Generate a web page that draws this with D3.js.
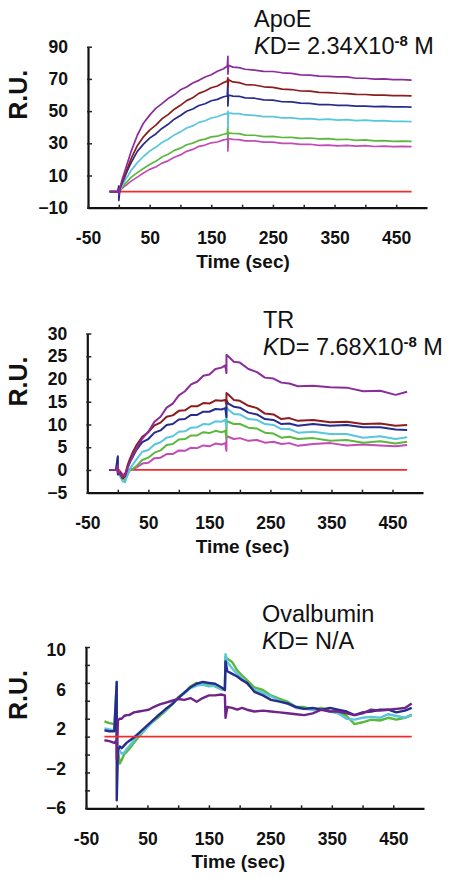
<!DOCTYPE html>
<html><head><meta charset="utf-8">
<script src="https://cdn.jsdelivr.net/npm/d3@7"></script>
<style>
html,body{margin:0;padding:0;background:#fff;}
svg{display:block;}
text{font-family:"Liberation Sans",Arial,Helvetica,sans-serif;}
</style></head>
<body>
<svg id="chart" width="455" height="882"></svg>
<script>
// ---------------- DATA ----------------
const X_LABEL_TICKS = [-50, 50, 150, 250, 350, 450];
const X_MINOR_TICKS = [-50, 0, 50, 100, 150, 200, 250, 300, 350, 400, 450];

// Panel 1: ApoE
const P1_TITLE = "ApoE";
const P1_KD = "2.34X10";
const P1_YTICKS = [-10, 10, 30, 50, 70, 90];
const T1 = [-15,-2,0,0,2, 5,10,15,20,30, 40,50,60,70,80, 90,100,110,120,130, 140,150,160,170,176,
            177,177,178,185,195, 205,220,235,250,265, 280,295,310,325,340, 355,370,385,400,415, 430,445,460,475];
const P1_PURPLE = [0,0,1.5,-2,2.5, 7,13,19,25,35, 42.5,47.5,51.7,54.6,57.8, 60.1,63.2,65,67.5,69.1, 71.2,72.6,74.7,76.3,78,
            84,73,78.5,77.3,77, 76,75.5,74.7,74.6,73.8, 73.4,72.5,72.3,71.7,71.6, 71.3,71.3,70.4,70.4,69.9, 70,69.5,69.5,69.2];
const P1_DARKRED = [0,0,0,0,2.2, 5.5,10.5,15.5,20.5,28.5, 34,38.2,41.3,45.2,47.8, 51.2,53.6,56.5,58.3,61, 62.5,64.5,65.6,67.7,68.7,
            70.7,65,69.5,68.1,67.7, 66.5,66.2,65.1,64.7,63.6, 63.4,62.5,62.4,61.6,61.5, 61.1,60.9,60.4,60.3,59.9, 59.9,59.6,59.6,59.4];
const P1_NAVY = [0,0,3.5,-5.5,2, 5,9.5,14,18,25, 29.5,33.2,35.8,39.2,41.8, 45,47.3,49.9,51.3,53.5, 54.6,56.4,57.3,58.9,59.4,
            68.7,53.2,60,59.3,59.2, 58.2,58,57,56.8,55.8, 55.7,54.9,54.8,54,54.1, 53.5,53.6,53.1,53.1,52.8, 52.9,52.6,52.7,52.5];
const P1_CYAN = [0,0,0,0,1.4, 3.5,7,10,13.2,18, 21.8,25.2,27.5,30.5,32.5, 35.2,37.1,39.5,40.8,43, 44,45.7,46.5,48,48.6,
            50,39.7,49,48.4,48.4, 47.6,47.4,46.6,46.6,45.8, 45.8,45.2,45.3,44.7,45, 44.4,44.7,44.1,44.4,43.9, 44.1,43.6,43.7,43.5];
const P1_GREEN = [0,0,0,0,1, 2.5,4.8,6.8,8.8,11.8, 14.3,16.8,18.8,21.5,23.2, 25.6,27,29.1,30.1,31.8, 32.6,34,34.4,35.6,36,
            40.4,33.5,36.5,36.1,36, 35.1,35,34.2,34.3,33.6, 33.7,33.1,33.3,32.7,32.9, 32.3,32.5,31.8,32.1,31.5, 31.7,31.2,31.4,31.2];
const P1_MAGENTA = [0,0,0,0,0.7, 1.8,3.5,5,6.5,9, 11.5,13.8,15.3,17.7,19.1, 21.3,22.8,25,26.2,28.1, 28.9,30.3,30.8,32.1,32.5,
            34.5,25.2,33,32.4,32.3, 31.5,31.5,30.7,30.7,29.9, 30,29.3,29.4,28.7,28.9, 28.4,28.7,28.2,28.5,28, 28.3,27.9,28.1,27.9];
const P1_RED_T = [0, 475];
const P1_RED = [0, 0];

// Panel 2: TR
const P2_TITLE = "TR";
const P2_KD = "7.68X10";
const P2_YTICKS = [-5, 0, 5, 10, 15, 20, 25, 30];
const T2 = [-14,-3,0,0,4, 8,12,16,20,25, 30,40,50,60,70, 80,90,100,110,120, 130,140,150,160,170,
            176,178,178,181,190, 200,214,228,241,255, 268,281,295,320,348, 375,402,430,455,474];
const P2_PURPLE = [0,0,1,-0.5,-0.8, -1.5,-1.2,0.5,1.8,3.3, 4.5,6.9,8.4,10.6,11.7, 13.7,14.6,16.4,17.3,18.8, 19.4,20.7,21,22.2,22.5,
            23,21.3,25.3,25,23.8, 23.6,22.2,21.5,20.3,20.1, 19.2,19,18.4,18.5,18.2, 18.1,17.3,17.4,16.5,17.2];
const P2_DARKRED = [0,0,0.5,-0.5,-1, -1.8,-1,1,2.5,4, 5.3,7.3,8.3,9.8,10.4, 11.7,12,13,13.1,14, 14,14.7,14.6,15.3,15.2,
            15.4,14.5,16.9,16.6,15.4, 15.2,14.1,13.6,12.4,12.2, 11.2,11.4,10.8,11,10.5, 10.6,10.1,10.2,9.7,9.9];
const P2_NAVY = [0,0,3,-1,-0.5, -1.8,-1.3,0.5,1.8,3, 4.3,6.1,6.8,8.2,8.7, 9.9,10.1,11.1,11.2,12.1, 12.1,12.8,12.8,13.4,13.3,
            13.6,11.6,15.3,14.6,13.9, 13.7,12.6,12.2,11.2,11, 10.1,10.2,9.7,10.1,9.7, 9.9,9.4,9.4,8.9,8.8];
const P2_CYAN = [0,0,1.5,-0.5,-1.5, -2.5,-2.7,-1,0.3,1.3, 2.2,4,4.4,5.6,6.1, 7.1,7.4,8.4,8.5,9.3, 9.4,10.1,10,10.7,10.6,
            11,9.5,13.9,13.3,12.3, 12.2,11.2,11,10.1,9.9, 9,9,8.2,8.4,7.9, 7.9,7.1,7.4,6.8,7.2];
const P2_GREEN = [0,0,2.8,-0.3,-1, -2,-2.2,-1,0,0.3, 0.8,2.2,2.7,3.8,4.3, 5.5,5.7,6.7,6.8,7.6, 7.6,8.3,8.1,8.6,8.3,
            8.6,7,11,10.6,10.1, 10.1,9.3,9.1,8.2,8, 7.1,7.3,6.8,7,6.4, 6.6,6,6.3,5.8,6.2];
const P2_MAGENTA = [0,0,0.8,-0.5,-1, -1.8,-1.5,-0.5,0,0.2, 0.5,1.4,1.6,2.6,2.7, 3.5,3.5,4.3,4.2,4.9, 4.8,5.4,5.2,5.8,5.6,
            5.9,4.2,7.4,7.3,6.8, 7,6.4,6.6,6,6.2, 5.7,5.9,5.3,5.7,5.9, 5.4,5.6,5.4,5.2,5.5];
const P2_RED_T = [-14, 2, 8, 12, 16, 474];
const P2_RED = [0, 0, -1, -0.8, 0, 0];

// Panel 3: Ovalbumin
const P3_TITLE = "Ovalbumin";
const P3_KD = "N/A";
const P3_YLABELS = [-6, -2, 2, 6, 10];
const P3_YMARKS = [-6, -4, -2, 0, 2, 4, 6, 8, 10, 12];
const T3 = [-20,-12,-4,0,0, 2,5,8,12,16, 20,28,36,44,52, 60,70,80,90,100, 110,120,130,140,150,
            160,170,176,177,180, 188,196,204,212,224, 238,251,265,278,292, 305,319,333,347,360,
            374,387,400,414,428, 442,455,469,480];
const P3_GREEN = [3.7,3.5,3.4,3.2,2.0, 0.5,-1.0,-0.6,0.0,0.3, 0.6,1.3,2.0,2.6,3.3, 3.7,4.3,4.9,5.6,6.4, 6.9,7.6,8.0,7.8,7.9,
            7.6,7.3,7.2,10.9,10.7, 10.3,9.4,8.8,8.3,7.5, 7.2,6.6,6.2,5.9,5.3, 5.3,5.0,5.2,4.9,4.8,
            4.3,3.4,3.6,3.9,3.8, 4.1,3.9,4.1,4.4];
const P3_CYAN = [2.9,2.8,2.7,8.1,1.5, 0.8,0.4,0.1,0.2,0.6, 0.9,1.6,2.2,2.6,3.2, 3.8,4.5,5.0,5.7,6.3, 6.8,7.4,7.7,7.8,7.6,
            7.7,7.3,7.3,11.2,10.3, 9.6,9.0,8.5,7.9,7.2, 6.9,6.5,6.0,5.7,5.2, 5.1,5.0,5.1,4.8,4.6,
            4.0,3.9,4.1,4.2,4.1, 4.5,4.3,4.1,4.5];
const P3_NAVY = [2.7,2.6,2.6,8.1,-5.1, 0.5,0.9,0.7,1.0,1.3, 1.5,1.9,2.4,2.9,3.4, 3.9,4.5,5.1,5.6,6.3, 6.9,7.5,7.9,8.1,8.0,
            7.9,7.5,7.2,10.4,9.3, 9.0,8.7,8.3,8.0,7.0, 6.6,6.1,5.9,5.7,5.3, 5.1,5.2,5.0,5.2,5.0,
            4.8,4.4,4.7,4.8,5.0, 5.0,4.7,4.9,5.2];
const P3_PURPLE = [1.6,1.5,1.3,1.6,-0.5, 3.8,4.0,4.0,4.3,4.4, 4.4,4.7,4.8,4.9,5.0, 5.3,5.6,5.8,6.0,6.2, 6.1,6.3,5.9,6.3,6.6,
            6.6,6.7,6.6,4.1,5.3, 5.2,5.0,5.2,5.0,4.8, 4.9,4.8,4.7,4.6,4.5, 4.4,4.6,5.0,4.8,4.8,
            4.6,4.4,4.6,5.0,4.9, 5.0,5.1,5.2,5.7];
const P3_RED_T = [-20, 480];
const P3_RED = [2, 2];

// ---------------- DRAW ----------------
const COL = {
  purple: "#8a2c9c", darkred: "#8c1c1e", navy: "#262b8c", cyan: "#58c6dc",
  green: "#5cb83c", magenta: "#c24bb6", red: "#f22b2b", purple3: "#6f2488"
};
const svg = d3.select("#chart");
const FONT = '"Liberation Sans",Arial,Helvetica,sans-serif';

function panel(cfg) {
  const g = svg.append("g");
  const x = d3.scaleLinear().domain([-50, 500]).range([cfg.x0, cfg.x1]);
  const y = d3.scaleLinear().domain(cfg.yDomain).range([cfg.yB, cfg.yT]);
  const yLab = cfg.yLabelScale || y;

  const ya = g.append("g").attr("transform", `translate(${cfg.x0},0)`)
    .call(d3.axisLeft(y).tickValues(cfg.yMarks).tickSizeInner(-4).tickSizeOuter(0).tickFormat(""));
  ya.select(".domain").attr("stroke", "#111").attr("stroke-width", 2.2);
  ya.selectAll(".tick line").attr("stroke", "#222").attr("stroke-width", 1.5).attr("x1", -1);
  const yl = g.append("g").attr("transform", `translate(${cfg.x0},0)`)
    .call(d3.axisLeft(yLab).tickValues(cfg.yLabels).tickSize(0).tickPadding(20).tickFormat(d3.format("d")));
  yl.select(".domain").remove();
  yl.selectAll("text").attr("font-family", FONT).attr("font-size", 17.5).attr("font-weight", "bold").attr("fill", "#111");

  const xa = g.append("g").attr("transform", `translate(0,${cfg.yB})`)
    .call(d3.axisBottom(x).tickValues(X_MINOR_TICKS).tickSizeInner(3).tickSizeOuter(0).tickPadding(21)
      .tickFormat(d => X_LABEL_TICKS.includes(d) ? String(d) : ""));
  xa.select(".domain").attr("stroke", "#111").attr("stroke-width", 2.2);
  xa.selectAll(".tick line").attr("stroke", "#222").attr("stroke-width", 1.5).attr("y1", -3).attr("y2", 1);
  xa.selectAll("text").attr("font-family", FONT).attr("font-size", 17.5).attr("font-weight", "bold").attr("fill", "#111");

  g.append("text").attr("x", cfg.timeX).attr("y", cfg.yB + 60).attr("text-anchor", "middle")
    .attr("font-size", 19).attr("font-weight", "bold").attr("fill", "#111").text("Time (sec)");
  g.append("text").attr("transform", `translate(27,${cfg.yT + 48}) rotate(-90)`).attr("text-anchor", "middle")
    .attr("font-size", 25).attr("font-weight", "bold").attr("fill", "#111").text("R.U.");

  g.append("text").attr("x", cfg.titleX).attr("y", cfg.titleY).attr("font-size", 23.5).attr("fill", "#111").text(cfg.title);
  const kd = g.append("text").attr("x", cfg.titleX).attr("y", cfg.titleY + 27).attr("font-size", 23.5).attr("fill", "#111");
  kd.append("tspan").attr("font-style", "italic").text("K");
  kd.append("tspan").text("D= " + cfg.kd);
  if (cfg.sup) {
    kd.append("tspan").attr("dy", -8).attr("font-size", 15).attr("font-weight", "bold").text("-8");
    kd.append("tspan").attr("dy", 8).text(" M");
  }

  const line = (T) => d3.line().x((d, i) => x(T[i])).y(d => y(d));
  const drawRed = () => g.append("path").attr("d", line(cfg.redT)(cfg.red))
      .attr("fill", "none").attr("stroke", COL.red).attr("stroke-width", 1.8);
  if (!cfg.redOnTop) drawRed();
  cfg.series.forEach(([vals, c]) => {
    g.append("path").attr("d", line(cfg.T)(vals)).attr("fill", "none")
      .attr("stroke", c).attr("stroke-width", cfg.lw).attr("stroke-linejoin", "round");
  });
  if (cfg.redOnTop) drawRed();
}

panel({
  x0: 88, x1: 427, yT: 46.7, yB: 207.7, yDomain: [-10, 90], yMarks: P1_YTICKS, yLabels: P1_YTICKS,
  timeX: 243, titleX: 254, titleY: 27, title: P1_TITLE, kd: P1_KD, sup: true, lw: 1.7,
  T: T1, redT: P1_RED_T, red: P1_RED,
  series: [[P1_MAGENTA, COL.magenta], [P1_GREEN, COL.green], [P1_CYAN, COL.cyan],
           [P1_NAVY, COL.navy], [P1_DARKRED, COL.darkred], [P1_PURPLE, COL.purple]]
});
panel({
  x0: 87.3, x1: 423, yT: 333.5, yB: 492.7, yDomain: [-5, 30], yMarks: P2_YTICKS, yLabels: P2_YTICKS,
  timeX: 242.5, titleX: 263, titleY: 328.3, title: P2_TITLE, kd: P2_KD, sup: true, lw: 2,
  T: T2, redT: P2_RED_T, red: P2_RED,
  series: [[P2_MAGENTA, COL.magenta], [P2_GREEN, COL.green], [P2_CYAN, COL.cyan],
           [P2_NAVY, COL.navy], [P2_DARKRED, COL.darkred], [P2_PURPLE, COL.purple]]
});
panel({
  x0: 86, x1: 424, yT: 647, yB: 808.3, yDomain: [-6, 12], yMarks: P3_YMARKS, yLabels: P3_YLABELS,
  yLabelScale: d3.scaleLinear().domain([-6, 10]).range([808.3, 650]),
  timeX: 238.3, titleX: 262, titleY: 621.7, title: P3_TITLE, kd: P3_KD, sup: false, lw: 2.4,
  T: T3, redT: P3_RED_T, red: P3_RED, redOnTop: true,
  series: [[P3_GREEN, COL.green], [P3_CYAN, COL.cyan], [P3_NAVY, COL.navy], [P3_PURPLE, COL.purple3]]
});
</script>
</body></html>
